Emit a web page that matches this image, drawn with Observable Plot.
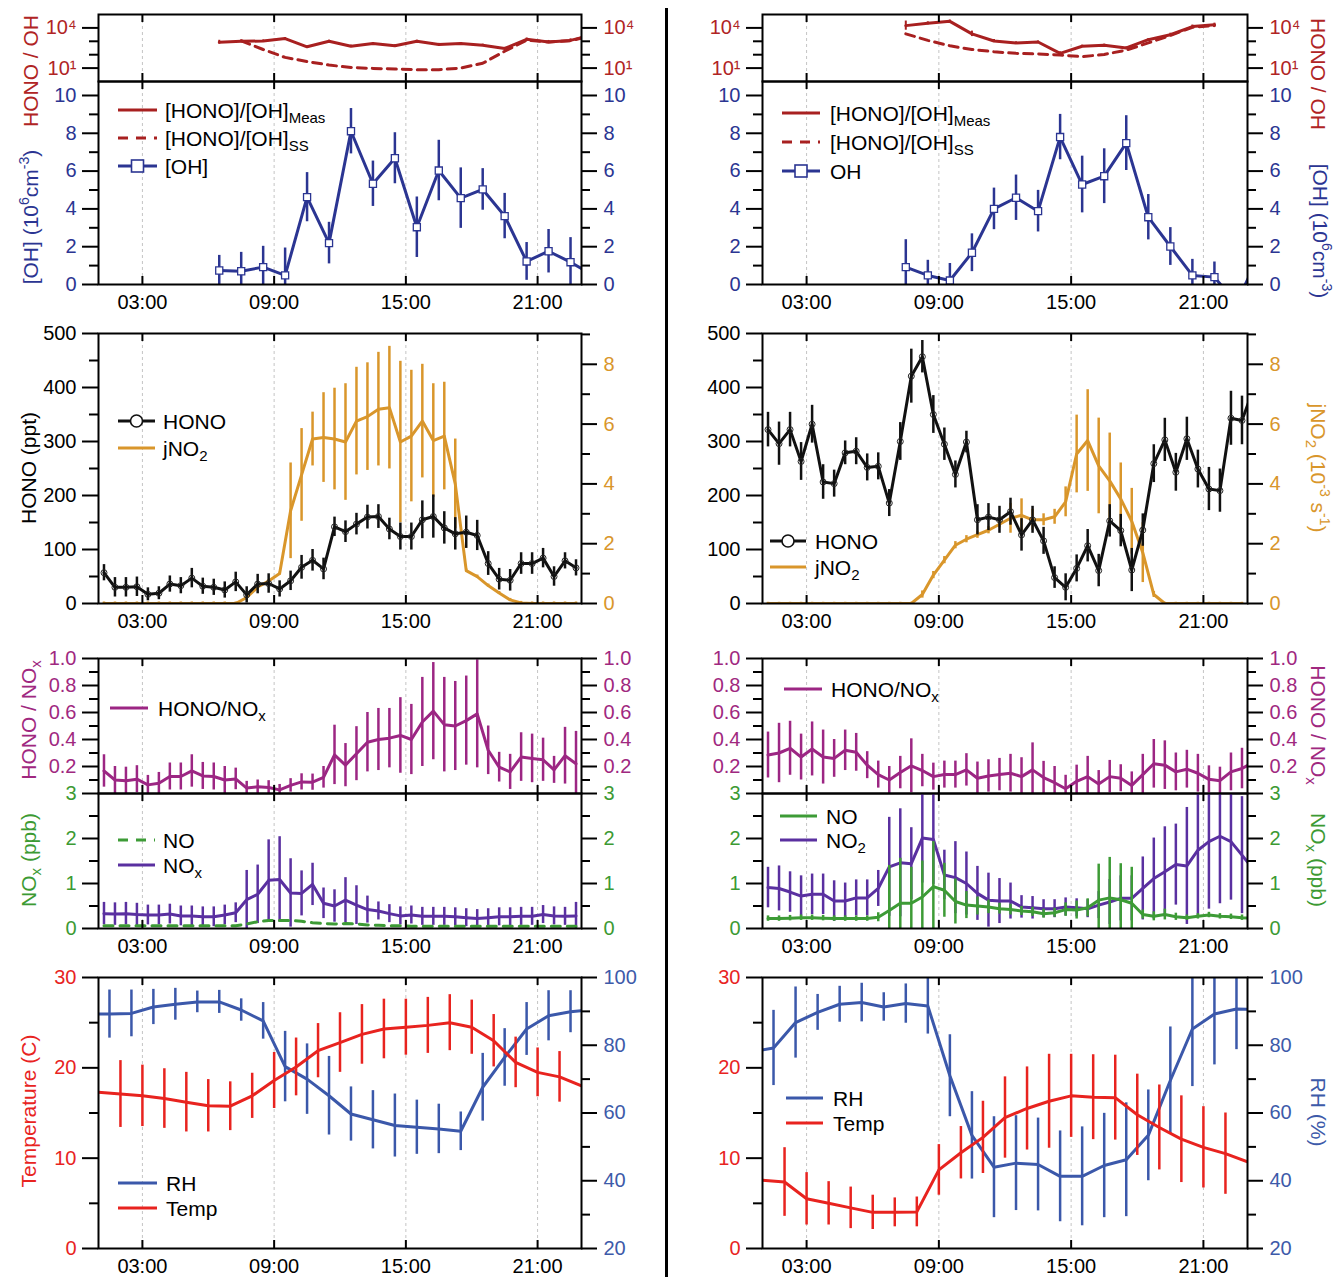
<!DOCTYPE html>
<html><head><meta charset="utf-8">
<script src="https://cdn.jsdelivr.net/npm/d3@7"></script>
<script src="https://cdn.jsdelivr.net/npm/@observablehq/plot@0.6"></script>
<style>
html,body{margin:0;padding:0;background:#fff;}
body{width:1338px;height:1277px;position:relative;overflow:hidden;font-family:"Liberation Sans",Arial,Helvetica,sans-serif;}
svg{overflow:visible;}
.lab{position:absolute;white-space:nowrap;font-size:21px;line-height:1;}
.lt{position:absolute;white-space:nowrap;font-size:21px;line-height:1;transform:translateY(-50%);color:#000;}
.sw{position:absolute;}
.sub{font-size:15px;position:relative;top:5px;}
.sup{font-size:14px;position:relative;top:-9px;}
</style></head><body>
<script>
// ---------------- DATA ----------------
const hourTicks = [3, 9, 15, 21];

const tHalf = [1.25,1.75,2.25,2.75,3.25,3.75,4.25,4.75,5.25,5.75,6.25,6.75,7.25,7.75,8.25,8.75,9.25,9.75,10.25,10.75,11.25,11.75,12.25,12.75,13.25,13.75,14.25,14.75,15.25,15.75,16.25,16.75,17.25,17.75,18.25,18.75,19.25,19.75,20.25,20.75,21.25,21.75,22.25,22.75];
const tHalfR = [1.25,1.75,2.25,2.75,3.25,3.75,4.25,4.75,5.25,5.75,6.25,6.75,7.25,7.75,8.25,8.75,9.25,9.75,10.25,10.75,11.25,11.75,12.25,12.75,13.25,13.75,14.25,14.75,15.25,15.75,16.25,16.75,17.25,17.75,18.25,18.75,19.25,19.75,20.25,20.75,21.25,21.75,22.25,22.75,23.25];
const tHour = [1,2,3,4,5,6,7,8,9,10,11,12,13,14,15,16,17,18,19,20,21,22,23];
const tRH = [0.5,1.5,2.5,3.5,4.5,5.5,6.5,7.5,8.5,9.5,10.5,11.5,12.5,13.5,14.5,15.5,16.5,17.5,18.5,19.5,20.5,21.5,22.5,23.5];

// HONO/OH ratio (log panel)
const tRatioMeasL = [6.5,7.5,8.5,9.5,10.5,11.5,12.5,13.5,14.5,15.5,16.5,17.5,18.5,19.5,20.5,21.5,22.5,23.5];
const ratioMeasL = [850,1000,1050,1600,390,1000,430,680,460,1000,580,680,510,290,1400,890,1170,3000];
const ratioMeasErrL = [1.4,1.2,1.2,1.2,1.2,1.2,1.2,1.2,1.2,1.2,1.2,1.2,1.2,1.2,1.25,1.3,1.3,1.2];
const tRatioSSL = [7.5,8.5,9.5,10.5,11.5,12.5,13.5,14.5,15.5,16.5,17.5,18.5,19.5,20.5,21.5,22.5,23.5];
const ratioSSL = [1100,245,63,31,17,11,9.5,8.5,7.6,7.6,10,23,180,1200,900,1100,2800];

const tRatioR = [7.5,8.5,9.5,10.5,11.5,12.5,13.5,14.5,15.5,16.5,17.5,18.5,19.5,20.5,21.5];
const ratioMeasR = [14800,21900,30900,3600,1050,760,890,126,430,510,320,1320,3090,12600,17400];
const ratioMeasErrR = [2.2,1.3,1.25,1.6,1.3,1.2,1.2,1.3,1.2,1.2,1.2,1.2,1.3,1.3,1.3];
const ratioSSR = [3600,1170,460,245,166,126,112,95,71,105,220,760,2750,11200,14800];

// OH (1e6 cm-3)
const tOHL = [6.5,7.5,8.5,9.5,10.5,11.5,12.5,13.5,14.5,15.5,16.5,17.5,18.5,19.5,20.5,21.5,22.5,23.5];
const ohL = [0.74,0.70,0.92,0.48,4.62,2.19,8.11,5.33,6.68,3.03,6.03,4.57,5.03,3.62,1.22,1.76,1.18,0.5];
const ohErrL = [0.8,1.0,1.1,1.45,1.3,1.1,1.2,1.2,1.35,1.6,1.6,1.6,1.1,1.2,1.0,1.15,1.3,0];
const tOHR = [7.5,8.5,9.5,10.5,11.5,12.5,13.5,14.5,15.5,16.5,17.5,18.5,19.5,20.5,21.5,22.5,23.5];
const ohR = [0.92,0.48,0.21,1.68,4.0,4.59,3.88,7.8,5.29,5.73,7.48,3.56,2.01,0.48,0.39,-1.0,1.5];
const ohErrR = [1.45,0.8,0.9,1.0,1.1,1.2,1.1,1.2,1.5,1.45,1.45,1.2,1.0,0.85,0.8,0,0];

// HONO (ppt)
const honoL = [57,30,30,31,17,19,36,33,47,32,30,25,40,16,36,37,27,42,67,80,64,142,133,147,160,161,138,124,124,155,161,140,129,132,126,74,45,43,74,74,84,50,79,66];
const honoErrL = [15,18,18,18,12,12,15,15,18,15,15,15,18,15,18,18,15,18,22,20,20,18,20,20,22,22,20,25,25,35,40,30,30,30,28,22,20,20,20,20,18,18,15,15];
const honoR = [322,296,322,263,332,225,222,279,282,252,254,186,300,421,457,350,295,239,299,155,160,155,170,127,155,116,48,30,65,107,61,153,135,62,136,259,303,243,305,249,212,209,343,339,395];
const honoErrR = [32,40,32,35,35,32,25,22,25,25,25,25,35,50,30,35,30,25,20,28,25,25,25,30,25,25,20,25,25,30,30,30,30,40,30,35,40,35,40,35,40,40,50,45,35];

// jNO2 (1e-3 s-1)
const jno2L = [0,0,0,0,0,0,0,0,0,0,0,0,0,0.2,0.55,0.75,1.0,3.1,4.3,5.5,5.55,5.5,5.4,6.1,6.25,6.5,6.55,5.4,5.6,6.1,5.45,5.6,4.0,1.1,0.9,0.6,0.35,0.12,0.02,0,0,0,0,0];
const jno2ErrL = [0.05,0.05,0.05,0.05,0.05,0.05,0.05,0.05,0.05,0.05,0.05,0.05,0.05,0.05,0.05,0.05,0.05,1.6,1.55,0.9,1.5,1.7,1.95,1.8,1.8,1.9,2.05,2.7,2.2,1.9,1.9,1.8,1.5,0.05,0.05,0.05,0.05,0.05,0.05,0.05,0.05,0.05,0.05,0.05];
const jno2R = [0,0,0,0,0,0,0,0,0,0,0,0,0,0,0.3,0.95,1.45,1.95,2.15,2.3,2.45,2.65,2.85,2.95,2.8,2.8,2.9,3.4,5.0,5.45,4.6,4.1,3.5,2.75,1.7,0.3,0,0,0,0,0,0,0,0];
const jno2ErrR = [0.04,0.04,0.04,0.04,0.04,0.04,0.04,0.04,0.04,0.04,0.04,0.04,0.04,0.04,0.12,0.12,0.12,0.12,0.12,0.12,0.12,0.12,0.5,0.55,0.35,0.2,0.25,0.5,1.3,1.7,1.6,1.6,1.2,1.1,1.0,0.1,0.04,0.04,0.04,0.04,0.04,0.04,0.04,0.04];

// HONO/NOx
const hnL = [0.167,0.10,0.095,0.106,0.064,0.076,0.126,0.126,0.167,0.13,0.126,0.10,0.108,0.04,0.05,0.045,0.027,0.06,0.086,0.084,0.12,0.286,0.21,0.295,0.38,0.40,0.41,0.43,0.40,0.53,0.61,0.51,0.50,0.54,0.59,0.32,0.195,0.16,0.27,0.26,0.25,0.175,0.28,0.22];
const hnErrL = [0.12,0.1,0.1,0.1,0.07,0.08,0.1,0.1,0.12,0.1,0.1,0.1,0.08,0.05,0.05,0.05,0.04,0.05,0.06,0.06,0.08,0.22,0.16,0.2,0.22,0.23,0.22,0.28,0.26,0.33,0.36,0.35,0.33,0.33,0.4,0.18,0.11,0.13,0.18,0.18,0.16,0.1,0.21,0.24];
const hnR = [0.285,0.30,0.335,0.27,0.33,0.27,0.26,0.32,0.305,0.21,0.14,0.10,0.155,0.205,0.17,0.125,0.14,0.14,0.175,0.113,0.13,0.14,0.15,0.125,0.175,0.118,0.08,0.035,0.09,0.125,0.07,0.125,0.113,0.06,0.14,0.22,0.21,0.16,0.18,0.15,0.105,0.095,0.16,0.185,0.23];
const hnErrR = [0.17,0.22,0.2,0.17,0.2,0.2,0.14,0.15,0.14,0.1,0.1,0.1,0.12,0.2,0.12,0.1,0.1,0.1,0.12,0.12,0.12,0.12,0.14,0.14,0.2,0.12,0.12,0.1,0.12,0.15,0.1,0.12,0.1,0.1,0.15,0.18,0.18,0.14,0.14,0.14,0.1,0.1,0.14,0.15,0.1];

// NOx / NO2 / NO (ppb)
const noxL = [0.33,0.32,0.33,0.31,0.30,0.30,0.32,0.28,0.28,0.26,0.26,0.30,0.35,0.64,0.76,1.07,1.09,0.79,0.78,0.98,0.56,0.50,0.63,0.52,0.42,0.39,0.33,0.28,0.30,0.27,0.27,0.27,0.26,0.24,0.22,0.24,0.26,0.26,0.27,0.27,0.31,0.28,0.27,0.28];
const noxErrL = [0.25,0.25,0.25,0.25,0.22,0.22,0.22,0.22,0.22,0.22,0.22,0.22,0.22,0.65,0.65,0.9,0.95,0.76,0.5,0.47,0.34,0.36,0.5,0.43,0.3,0.2,0.2,0.2,0.2,0.2,0.2,0.2,0.2,0.2,0.2,0.2,0.2,0.2,0.2,0.2,0.2,0.2,0.2,0.3];
const noL = [0.06,0.06,0.06,0.06,0.06,0.06,0.06,0.06,0.06,0.06,0.06,0.06,0.06,0.1,0.15,0.18,0.18,0.18,0.16,0.13,0.11,0.1,0.11,0.1,0.08,0.07,0.06,0.06,0.05,0.05,0.05,0.05,0.05,0.05,0.05,0.05,0.05,0.05,0.05,0.05,0.05,0.05,0.05,0.05];
const no2R = [0.91,0.89,0.81,0.72,0.76,0.76,0.61,0.61,0.68,0.68,0.89,1.37,1.46,1.44,2.01,1.98,1.19,1.13,1.0,0.78,0.63,0.61,0.61,0.48,0.46,0.44,0.44,0.48,0.46,0.44,0.52,0.59,0.67,0.67,0.89,1.11,1.26,1.42,1.39,1.74,1.93,2.05,1.93,1.63,1.33];
const no2ErrR = [0.45,0.5,0.45,0.45,0.45,0.45,0.45,0.4,0.4,0.4,0.4,1.1,1.2,0.8,1.0,1.0,0.55,0.8,0.7,0.6,0.6,0.5,0.4,0.25,0.25,0.2,0.2,0.2,0.2,0.2,0.3,0.5,0.5,0.5,0.7,0.9,1.0,0.9,1.3,1.5,1.5,1.5,1.3,1.3,1.2];
const noR = [0.22,0.22,0.23,0.24,0.24,0.23,0.22,0.22,0.22,0.22,0.25,0.4,0.56,0.56,0.7,0.93,0.85,0.6,0.52,0.5,0.48,0.44,0.42,0.39,0.37,0.33,0.35,0.42,0.41,0.46,0.63,0.68,0.64,0.56,0.31,0.27,0.31,0.26,0.24,0.27,0.3,0.27,0.26,0.24,0.23];
const noErrR = [0.06,0.06,0.06,0.06,0.06,0.06,0.06,0.06,0.06,0.06,0.1,1.0,1.0,0.8,0.8,1.0,0.6,0.5,0.3,0.2,0.15,0.12,0.12,0.1,0.1,0.1,0.1,0.15,0.2,0.2,0.8,0.9,0.8,0.8,0.1,0.1,0.12,0.08,0.06,0.06,0.06,0.06,0.06,0.06,0.06];

// Temperature (C) and RH (%)
const tempL = [17.3,17.1,16.9,16.6,16.2,15.8,15.75,16.9,18.6,20.1,21.9,22.8,23.7,24.3,24.5,24.7,25.0,24.5,23.0,20.6,19.5,19.0,18.0];
const tempErrL = [0,3.7,3.4,3.3,3.3,2.9,2.7,2.5,3.1,3.2,3.0,3.3,3.3,3.3,3.1,3.1,3.1,3.0,2.9,2.8,2.7,2.8,0];
const rhL = [89.2,89.2,89.4,91.3,92.1,92.8,92.8,90.4,87.2,73.7,70.0,65.1,59.7,58.0,56.3,55.8,55.3,54.6,67.6,76.4,84.8,88.7,89.9,90.5];
const rhErrL = [0,7.1,6.9,5.2,4.7,3.2,3.4,3.3,5.4,10.4,10.4,11.6,8,8.6,9.3,8,7.3,5.7,10,8.5,7.8,7.4,6.2,0];
const tempR = [7.55,7.36,5.5,5.0,4.5,4.0,4.0,4.05,8.7,10.6,12.3,14.5,15.5,16.3,16.9,16.75,16.7,14.8,13.4,12.1,11.2,10.5,9.6];
const tempErrR = [0,3.8,2.9,2.4,2.3,1.9,1.6,1.65,2.8,2.9,4.0,4.5,4.6,5.2,4.6,4.7,4.7,4.5,4.7,4.8,4.5,4.5,0];
const rhR = [78.0,79.2,86.7,89.7,92.1,92.6,91.3,92.3,91.6,71.0,53.4,44.0,45.2,44.8,41.3,41.3,44.5,46.2,53.4,69.6,84.8,89.2,90.7,90.5];
const rhErrR = [0,11.1,10.5,5.3,5.3,5.7,4.2,5.8,8.3,12.1,12.9,14.9,14,13.7,13.4,14.6,15.4,16.8,13.4,15.8,17,15,12,0];

// ---------------- STYLE ----------------
const FONT = '"Liberation Sans", Arial, Helvetica, sans-serif';
const C = {hoh:"#a82020", oh:"#2b3592", hono:"#111111", j:"#d9962b", hn:"#9c2683", nox:"#5a30a0", no:"#3d9b36", temp:"#e8231f", rh:"#3b58aa"};
const LBL = {hoh:"#b02424", oh:"#2b3592", hono:"#000", j:"#d9962b", hn:"#a0287f", no:"#3c9a33", temp:"#e8241f", rh:"#3d5aa9"};
const COL = {L:{left:0,width:660,ml:98,mr:79}, R:{left:667,width:671,ml:95,mr:91}};
const ROW = {A:{top:0,height:81,mt:14,mb:0}, B:{top:71,height:253,mt:10,mb:40}, C:{top:323,height:320,mt:10,mb:40}, D:{top:648,height:150,mt:10,mb:5}, E:{top:783,height:185,mt:10,mb:40}, F:{top:967,height:310,mt:10,mb:29}};
const X0 = 1, X1 = 23;

const rows = (t, v, e) => t.map((x, i) => ({x, y: v[i], e: e ? e[i] : 0}));
const hh = d => String(d).padStart(2, "0") + ":00";
const pph = col => (COL[col].width - COL[col].ml - COL[col].mr) / (X1 - X0);
const fh = row => ROW[row].height - ROW[row].mt - ROW[row].mb;

function grid() { return Plot.ruleX(hourTicks, {x: d => d, stroke: "#c4c4c4", strokeWidth: 1, strokeDasharray: "3,3"}); }
function xIn(dom, h, log) {
  const f = 8 / h, [lo, hi] = dom;
  const b = log ? lo * Math.pow(hi / lo, f) : lo + (hi - lo) * f;
  const t = log ? hi / Math.pow(hi / lo, f) : hi - (hi - lo) * f;
  return [Plot.ruleX(hourTicks, {x: d => d, y1: lo, y2: b, stroke: "#000", strokeWidth: 2}),
          Plot.ruleX(hourTicks, {x: d => d, y1: hi, y2: t, stroke: "#000", strokeWidth: 2})];
}
function xLabels(lo) { return Plot.text(hourTicks, {x: d => d, y: lo, text: hh, lineAnchor: "top", dy: 10, fontSize: 20, fill: "#000"}); }
function yAx(col, anchor, major, minor, labels, color, fmt) {
  const k = pph(col), edge = anchor === "left" ? X0 : X1, s = anchor === "left" ? -1 : 1;
  return [
    Plot.ruleY(minor, {y: d => d, x1: edge, x2: edge + s * 9 / k, stroke: "#000", strokeWidth: 2}),
    Plot.ruleY(major, {y: d => d, x1: edge, x2: edge + s * 16 / k, stroke: "#000", strokeWidth: 2}),
    Plot.text(labels, {y: d => d, x: edge + s * 22 / k, text: d => fmt(d), textAnchor: anchor === "left" ? "end" : "start", fill: color, fontSize: 20})
  ];
}
function errs(data, color, w = 2) { return Plot.ruleX(data, {x: "x", y1: d => d.y - d.e, y2: d => d.y + d.e, stroke: color, strokeWidth: w, clip: true}); }
function line(data, color, w = 3, dash) { return Plot.line(data, {x: "x", y: "y", stroke: color, strokeWidth: w, strokeDasharray: dash, clip: true}); }
const frame = () => Plot.frame({stroke: "#000", strokeWidth: 2});

function make(col, row, y, marks) {
  const c = COL[col], r = ROW[row];
  const svg = Plot.plot({
    width: c.width, height: r.height,
    marginLeft: c.ml, marginRight: c.mr, marginTop: r.mt, marginBottom: r.mb,
    x: {domain: [X0, X1], axis: null},
    y: {...y, axis: null},
    style: {background: "transparent", fontFamily: FONT, fontSize: "20px", overflow: "visible", color: "#000"},
    marks
  });
  svg.style.position = "absolute";
  svg.style.left = c.left + "px";
  svg.style.top = r.top + "px";
  svg.style.maxWidth = "none";
  document.body.appendChild(svg);
}

function buildColumn(col, d) {
  // A: HONO/OH log
  const domA = [1, 1e5];
  const supF = v => v === 10 ? "10\u00B9" : "10\u2074";
  make(col, "A", {type: "log", domain: domA}, [
    grid(),
    line(d.ss, C.hoh, 3, "9,6"),
    Plot.ruleX(d.meas, {x: "x", y1: r => r.y / r.e, y2: r => r.y * r.e, stroke: C.hoh, strokeWidth: 2, clip: true}),
    line(d.meas, C.hoh, 3),
    ...yAx(col, "left", [10, 1e4], [100, 1000], [10, 1e4], LBL.hoh, supF),
    ...yAx(col, "right", [10, 1e4], [100, 1000], [10, 1e4], LBL.hoh, supF),
    ...xIn(domA, fh("A"), true),
    frame()
  ]);
  // B: OH
  const domB = [0, 10.74];
  make(col, "B", {domain: domB}, [
    grid(),
    errs(d.oh, C.oh, 2.5),
    line(d.oh, C.oh, 3),
    Plot.dot(d.oh, {x: "x", y: "y", symbol: "square", r: 4, stroke: C.oh, fill: "white", strokeWidth: 1.3, clip: true}),
    ...yAx(col, "left", [0,2,4,6,8,10], [1,3,5,7,9], [0,2,4,6,8,10], LBL.oh, v => v),
    ...yAx(col, "right", [0,2,4,6,8,10], [1,3,5,7,9], [0,2,4,6,8,10], LBL.oh, v => v),
    ...xIn(domB, fh("B")),
    xLabels(0),
    frame()
  ]);
  // C: jNO2 (right axis) underneath
  make(col, "C", {domain: [0, 9.03]}, [
    grid(),
    errs(d.j, C.j, 2.5),
    line(d.j, C.j, 3),
    ...yAx(col, "right", [0,2,4,6,8], [1,3,5,7,9], [0,2,4,6,8], LBL.j, v => v)
  ]);
  // C: HONO (left axis)
  const domC = [0, 500];
  make(col, "C", {domain: domC}, [
    errs(d.hono, C.hono, 2.5),
    line(d.hono, C.hono, 3),
    Plot.dot(d.hono, {x: "x", y: "y", r: 3, stroke: "#222", fill: "none", strokeWidth: 1, clip: true}),
    ...yAx(col, "left", [0,100,200,300,400,500], [50,150,250,350,450], [0,100,200,300,400,500], LBL.hono, v => v),
    ...xIn(domC, fh("C")),
    xLabels(0),
    frame()
  ]);
  // D: HONO/NOx
  const domD = [0, 1];
  const f1 = d3.format(".1f");
  make(col, "D", {domain: domD}, [
    grid(),
    errs(d.hn, C.hn, 2.5),
    line(d.hn, C.hn, 3),
    ...yAx(col, "left", [0.2,0.4,0.6,0.8,1.0], [0.1,0.3,0.5,0.7,0.9], [0.2,0.4,0.6,0.8,1.0], LBL.hn, f1),
    ...yAx(col, "right", [0.2,0.4,0.6,0.8,1.0], [0.1,0.3,0.5,0.7,0.9], [0.2,0.4,0.6,0.8,1.0], LBL.hn, f1),
    ...xIn(domD, fh("D")),
    frame()
  ]);
  // E: NOx
  const domE = [0, 3];
  make(col, "E", {domain: domE}, [
    grid(),
    ...d.eMarks,
    ...yAx(col, "left", [0,1,2,3], [0.5,1.5,2.5], [0,1,2,3], LBL.no, v => v),
    ...yAx(col, "right", [0,1,2,3], [0.5,1.5,2.5], [0,1,2,3], LBL.no, v => v),
    ...xIn(domE, fh("E")),
    xLabels(0),
    frame()
  ]);
  // F: RH (right axis) underneath
  make(col, "F", {domain: [20, 100]}, [
    grid(),
    errs(d.rh, C.rh, 2.5),
    line(d.rh, C.rh, 3),
    ...yAx(col, "right", [20,40,60,80,100], [30,50,70,90], [20,40,60,80,100], LBL.rh, v => v)
  ]);
  const domF = [0, 30];
  make(col, "F", {domain: domF}, [
    errs(d.temp, C.temp, 2.5),
    line(d.temp, C.temp, 3),
    ...yAx(col, "left", [0,10,20,30], [5,15,25], [0,10,20,30], LBL.temp, v => v),
    ...xIn(domF, fh("F")),
    xLabels(0),
    frame()
  ]);
}

const noxDataL = rows(tHalf, noxL, noxErrL);
const noDataL = rows(tHalf, noL);
buildColumn("L", {
  meas: rows(tRatioMeasL, ratioMeasL, ratioMeasErrL),
  ss: rows(tRatioSSL, ratioSSL),
  oh: rows(tOHL, ohL, ohErrL),
  j: rows(tHalf, jno2L, jno2ErrL),
  hono: rows(tHalf, honoL, honoErrL),
  hn: rows(tHalf, hnL, hnErrL),
  eMarks: [errs(noxDataL, C.nox, 2.5), line(noxDataL, C.nox, 3), line(noDataL, C.no, 3, "9,7")],
  rh: rows(tRH, rhL, rhErrL),
  temp: rows(tHour, tempL, tempErrL)
});
const no2DataR = rows(tHalfR, no2R, no2ErrR);
const noDataR = rows(tHalfR, noR, noErrR);
buildColumn("R", {
  meas: rows(tRatioR, ratioMeasR, ratioMeasErrR),
  ss: rows(tRatioR, ratioSSR),
  oh: rows(tOHR, ohR, ohErrR),
  j: rows(tHalf, jno2R, jno2ErrR),
  hono: rows(tHalfR, honoR, honoErrR),
  hn: rows(tHalfR, hnR, hnErrR),
  eMarks: [errs(no2DataR, C.nox, 2.5), line(no2DataR, C.nox, 3), errs(noDataR, C.no, 2.5), line(noDataR, C.no, 3)],
  rh: rows(tRH, rhR, rhErrR),
  temp: rows(tHour, tempR, tempErrR)
});

// ---------------- DIVIDER ----------------
const div = document.createElement("div");
Object.assign(div.style, {position: "absolute", left: "665px", top: "8px", width: "3px", height: "1269px", background: "#000"});
document.body.appendChild(div);

// ---------------- AXIS TITLES ----------------
function vlab(cx, cy, html, color, rot) {
  const d = document.createElement("div");
  d.className = "lab";
  Object.assign(d.style, {left: cx + "px", top: cy + "px", color, transform: `translate(-50%,-50%) rotate(${rot}deg)`});
  d.innerHTML = html;
  document.body.appendChild(d);
}
const sub = s => `<span class="sub">${s}</span>`;
const sup = s => `<span class="sup">${s}</span>`;
vlab(30, 71, "HONO / OH", LBL.hoh, -90);
vlab(30, 217, `[OH] (10${sup("6")}cm${sup("-3")})`, LBL.oh, -90);
vlab(28, 468, "HONO (ppt)", LBL.hono, -90);
vlab(28, 720, `HONO / NO${sub("x")}`, LBL.hn, -90);
vlab(28, 860, `NO${sub("x")} (ppb)`, LBL.no, -90);
vlab(28, 1111, "Temperature (C)", LBL.temp, -90);
vlab(1318, 74, "HONO / OH", LBL.hoh, 90);
vlab(1320, 231, `[OH] (10${sup("6")}cm${sup("-3")})`, LBL.oh, 90);
vlab(1318, 468, `jNO${sub("2")} (10${sup("-3")} s${sup("-1")})`, LBL.j, 90);
vlab(1318, 725, `HONO / NO${sub("x")}`, LBL.hn, 90);
vlab(1318, 860, `NO${sub("x")} (ppb)`, LBL.no, 90);
vlab(1318, 1112, "RH (%)", LBL.rh, 90);

// ---------------- LEGENDS ----------------
function swatch(kind, color, w) {
  let s = `<svg width="${w}" height="20" style="overflow:visible">`;
  s += `<line x1="0" y1="10" x2="${w}" y2="10" stroke="${color}" stroke-width="3" ${kind === "dash" ? 'stroke-dasharray="10,8"' : ""}/>`;
  if (kind === "square") s += `<rect x="${w / 2 - 6}" y="4" width="12" height="12" fill="white" stroke="${color}" stroke-width="1.6"/>`;
  if (kind === "circle") s += `<circle cx="${w / 2}" cy="10" r="6" fill="white" stroke="${color}" stroke-width="1.6"/>`;
  return s + "</svg>";
}
function legend(x, w, tx, items) {
  for (const [y, kind, color, html] of items) {
    const s = document.createElement("div");
    s.className = "sw";
    Object.assign(s.style, {left: x + "px", top: (y - 10) + "px"});
    s.innerHTML = swatch(kind, color, w);
    document.body.appendChild(s);
    const t = document.createElement("div");
    t.className = "lt";
    Object.assign(t.style, {left: tx + "px", top: y + "px"});
    t.innerHTML = html;
    document.body.appendChild(t);
  }
}
legend(118, 39, 165, [[110, "line", C.hoh, `[HONO]/[OH]${sub("Meas")}`], [138, "dash", C.hoh, `[HONO]/[OH]${sub("SS")}`], [166, "square", C.oh, "[OH]"]]);
legend(118, 37, 163, [[421, "circle", C.hono, "HONO"], [448, "line", C.j, `jNO${sub("2")}`]]);
legend(110, 38, 158, [[708, "line", C.hn, `HONO/NO${sub("x")}`]]);
legend(118, 37, 163, [[840, "dash", C.no, "NO"], [865, "line", C.nox, `NO${sub("x")}`]]);
legend(118, 39, 166, [[1183, "line", C.rh, "RH"], [1208, "line", C.temp, "Temp"]]);

legend(782, 38, 830, [[113, "line", C.hoh, `[HONO]/[OH]${sub("Meas")}`], [142, "dash", C.hoh, `[HONO]/[OH]${sub("SS")}`], [171, "square", C.oh, "OH"]]);
legend(770, 36, 815, [[541, "circle", C.hono, "HONO"], [567, "line", C.j, `jNO${sub("2")}`]]);
legend(784, 38, 831, [[689, "line", C.hn, `HONO/NO${sub("x")}`]]);
legend(780, 37, 826, [[816, "line", C.no, "NO"], [840, "line", C.nox, `NO${sub("2")}`]]);
legend(786, 37, 833, [[1098, "line", C.rh, "RH"], [1123, "line", C.temp, "Temp"]]);
</script>
</body></html>
